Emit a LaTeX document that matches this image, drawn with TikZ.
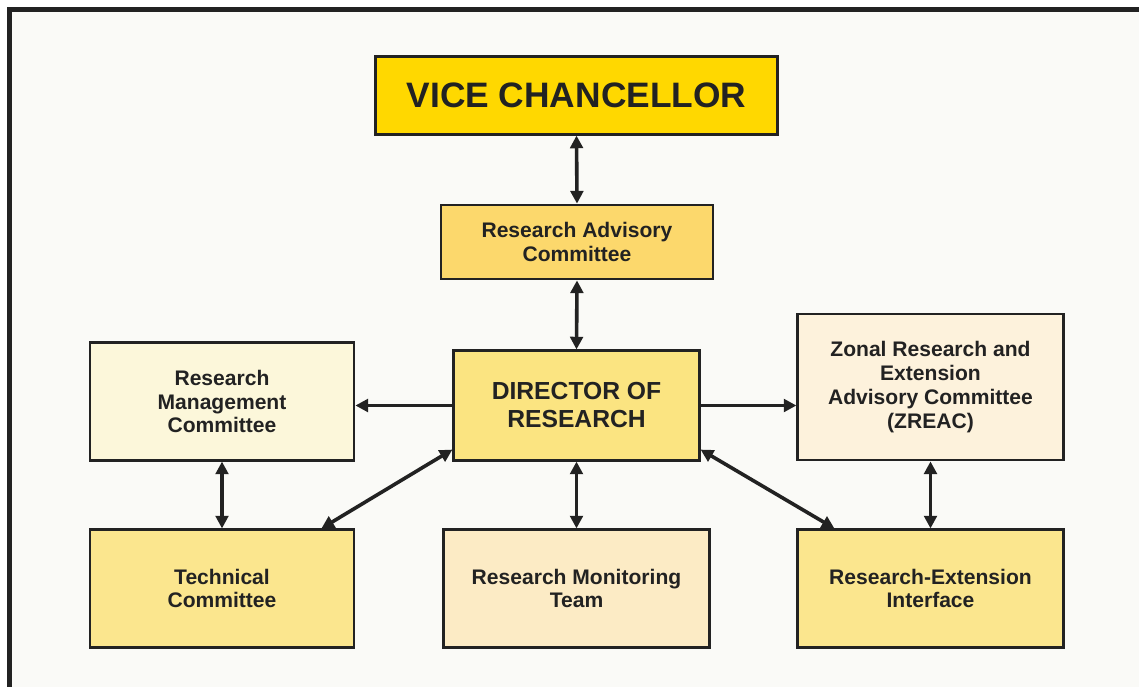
\documentclass[tikz,border=0pt]{standalone}
\usepackage{fontspec}
\setmainfont{Liberation Sans}
\usepackage{xcolor}
\usetikzlibrary{arrows.meta,positioning,calc}

\definecolor{framegray}{HTML}{222222}
\definecolor{pagebg}{HTML}{FAFAF7}
\definecolor{vcgold}{HTML}{FFD800}
\definecolor{racfill}{HTML}{FCD86C}
\definecolor{dorfill}{HTML}{FBE481}
\definecolor{rmcfill}{HTML}{FCF7DA}
\definecolor{zreacfill}{HTML}{FDF2DC}
\definecolor{tcfill}{HTML}{FBE68E}
\definecolor{rmtfill}{HTML}{FCEBC5}

\tikzset{
    orgbox/.style={draw=framegray, line width=2.1pt, rectangle, align=center,
        text=framegray, font=\bfseries\fontsize{15.8}{17.8}\selectfont},
    biarrow/.style={{Triangle[length=9.5pt,width=9.5pt]}-{Triangle[length=9.5pt,width=9.5pt]}, line width=2.7pt, draw=framegray},
    onearrow/.style={-{Triangle[length=9.5pt,width=9.5pt]}, line width=2.7pt, draw=framegray}
}

\begin{document}
\begin{tikzpicture}[x=0.75pt,y=-0.75pt]
    \useasboundingbox (0,0) rectangle (1139,686);
    \clip (0,0) rectangle (1139,686);
    % Layer 1: page and frame
    \fill[white] (0,0) rectangle (1139,686);
    \fill[pagebg] (9.5,9.5) rectangle (1160,710);
    \draw[framegray, line width=3.6pt] (9.5,710) -- (9.5,9.5) -- (1160,9.5);
    % Layer 2: boxes
    \node[orgbox, fill=vcgold, minimum width=302pt, minimum height=58pt,
        font=\bfseries\fontsize{26.5}{30}\selectfont] (vc) at (576.5,95.5) {VICE CHANCELLOR};
    \node[orgbox, fill=racfill, minimum width=204pt, minimum height=55.5pt] (rac) at (577,242) {Research Advisory\\Committee};
    \node[orgbox, fill=dorfill, minimum width=184pt, minimum height=82pt,
        font=\bfseries\fontsize{18.5}{21}\selectfont] (dor) at (576.5,405.5) {DIRECTOR OF\\RESEARCH};
    \node[orgbox, fill=rmcfill, minimum width=198pt, minimum height=88pt] (rmc) at (222,401.5) {Research\\Management\\Committee};
    \node[orgbox, fill=zreacfill, minimum width=199pt, minimum height=109.5pt] (zreac) at (930.5,387) {Zonal Research and\\Extension\\Advisory Committee\\(ZREAC)};
    \node[orgbox, fill=tcfill, minimum width=198pt, minimum height=88pt] (tc) at (222,588.5) {Technical\\Committee};
    \node[orgbox, fill=rmtfill, minimum width=199pt, minimum height=88pt] (rmt) at (576.5,588.5) {Research Monitoring\\Team};
    \node[orgbox, fill=tcfill, minimum width=199pt, minimum height=88pt] (rei) at (930.5,588.5) {Research-Extension\\Interface};
    % Layer 3: connectors
    \draw[biarrow] (vc.south) -- (rac.north);
    \draw[biarrow] (rac.south) -- (dor.north);
    \draw[onearrow] (dor.west) -- (dor.west -| rmc.east);
    \draw[onearrow] (dor.east) -- (dor.east -| zreac.west);
    \draw[biarrow] (rmc.south) -- (tc.north);
    \draw[biarrow] (dor.south) -- (rmt.north);
    \draw[biarrow] (zreac.south) -- (rei.north);
    \draw[biarrow] ([yshift=9pt]dor.south west) -- ([xshift=-25.5pt]tc.north east);
    \draw[biarrow] ([yshift=9pt]dor.south east) -- ([xshift=28.5pt]rei.north west);
\end{tikzpicture}
\end{document}
